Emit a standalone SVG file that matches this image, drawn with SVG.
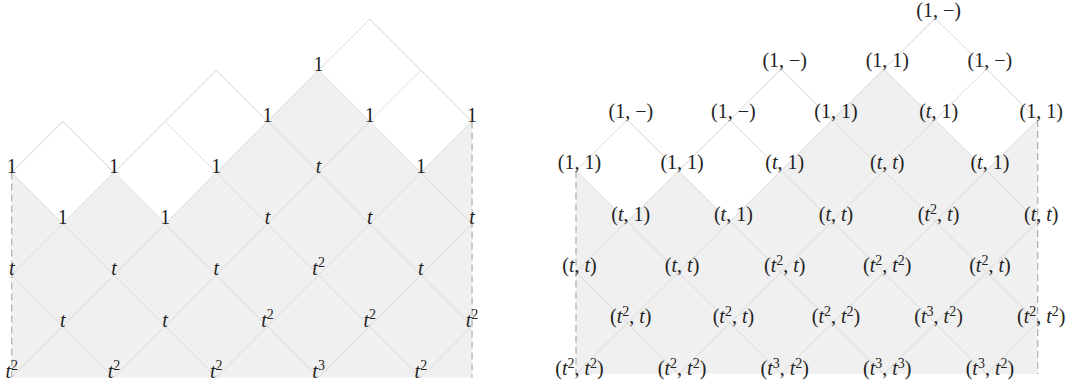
<svg xmlns="http://www.w3.org/2000/svg" width="1068" height="386" viewBox="0 0 1068 386">
<style>
.bg{fill:#ffffff}
.shade{fill:#f0f0f0;stroke:none}
.ln{stroke:#d6d6d6;stroke-width:0.9;fill:none}
.dash{stroke:#b3b3b3;stroke-width:1.3;stroke-dasharray:7 4;fill:none}
.lbl{font-family:"Liberation Serif","DejaVu Serif",serif;fill:#222;text-anchor:middle}
.L{font-size:20px}
.R{font-size:20px}
.i{font-style:italic}
.sL{font-size:14px}
.sR{font-size:14px}
</style>
<defs>
<clipPath id="clipL"><polygon points="11.7,172.6 62.85,121.4 114,172.6 165.15,121.4 216.3,70.2 267.45,121.4 318.6,70.2 369.75,19 420.9,70.2 472.05,121.4 472.05,377.4 11.7,377.4"/></clipPath>
<clipPath id="clipR"><polygon points="576,170.7 627.3,119.9 678.6,170.7 729.9,119.9 781.2,69.1 832.5,119.9 883.8,69.1 935.1,18.3 986.4,69.1 1037.7,119.9 1037.7,373.9 576,373.9"/></clipPath>
</defs>
<rect class="bg" x="0" y="0" width="1068" height="386"/>

<polygon id="left-shade" class="shade" points="11.7,172.6 62.85,223.8 114,172.6 165.15,223.8 216.3,172.6 267.45,121.4 318.6,70.2 369.75,121.4 420.9,172.6 472.05,121.4 472.05,377.4 11.7,377.4"/>
<polygon id="right-shade" class="shade" points="576,170.7 627.3,221.5 678.6,170.7 729.9,221.5 781.2,170.7 832.5,119.9 883.8,69.1 935.1,119.9 986.4,170.7 1037.7,119.9 1037.7,373.9 576,373.9"/>

<g id="connectors">
  <g id="left-lattice" clip-path="url(#clipL)" class="ln">
    <line x1="216.3" y1="-32.2" x2="-244.05" y2="428.6"/>
    <line x1="318.6" y1="-32.2" x2="-141.75" y2="428.6"/>
    <line x1="420.9" y1="-32.2" x2="-39.45" y2="428.6"/>
    <line x1="523.2" y1="-32.2" x2="62.85" y2="428.6"/>
    <line x1="625.5" y1="-32.2" x2="165.15" y2="428.6"/>
    <line x1="727.8" y1="-32.2" x2="267.45" y2="428.6"/>
    <line x1="830.1" y1="-32.2" x2="369.75" y2="428.6"/>
    <line x1="-295.2" y1="-32.2" x2="165.15" y2="428.6"/>
    <line x1="-193.05" y1="-32.2" x2="267.45" y2="428.6"/>
    <line x1="-90.9" y1="-32.2" x2="369.75" y2="428.6"/>
    <line x1="11.7" y1="-32.2" x2="472.05" y2="428.6"/>
    <line x1="114" y1="-32.2" x2="574.35" y2="428.6"/>
    <line x1="216.3" y1="-32.2" x2="676.65" y2="428.6"/>
    <line x1="318.6" y1="-32.2" x2="778.95" y2="428.6"/>
  </g>
  <polyline id="left-top" class="ln" points="11.7,172.6 62.85,121.4 114,172.6 165.15,121.4 216.3,70.2 267.45,121.4 318.6,70.2 369.75,19 420.9,70.2 472.05,121.4"/>
  <line id="left-edge-l" class="dash" x1="11.7" y1="172.6" x2="11.7" y2="377.4"/>
  <line id="left-edge-r" class="dash" x1="472.05" y1="121.4" x2="472.05" y2="377.4"/>

  <g id="right-lattice" clip-path="url(#clipR)" class="ln">
    <line x1="781.2" y1="-32.5" x2="319.5" y2="424.7"/>
    <line x1="883.8" y1="-32.5" x2="422.1" y2="424.7"/>
    <line x1="986.4" y1="-32.5" x2="524.7" y2="424.7"/>
    <line x1="1089" y1="-32.5" x2="627.3" y2="424.7"/>
    <line x1="1191.6" y1="-32.5" x2="729.9" y2="424.7"/>
    <line x1="1294.2" y1="-32.5" x2="832.5" y2="424.7"/>
    <line x1="1396.8" y1="-32.5" x2="935.1" y2="424.7"/>
    <line x1="268.2" y1="-32.5" x2="729.9" y2="424.7"/>
    <line x1="370.8" y1="-32.5" x2="832.5" y2="424.7"/>
    <line x1="473.4" y1="-32.5" x2="935.1" y2="424.7"/>
    <line x1="576" y1="-32.5" x2="1037.7" y2="424.7"/>
    <line x1="678.6" y1="-32.5" x2="1140.3" y2="424.7"/>
    <line x1="781.2" y1="-32.5" x2="1242.9" y2="424.7"/>
    <line x1="883.8" y1="-32.5" x2="1345.5" y2="424.7"/>
  </g>
  <polyline id="right-top" class="ln" points="576,170.7 627.3,119.9 678.6,170.7 729.9,119.9 781.2,69.1 832.5,119.9 883.8,69.1 935.1,18.3 986.4,69.1 1037.7,119.9"/>
  <line id="right-edge-l" class="dash" x1="576" y1="170.7" x2="576" y2="373.9"/>
  <line id="right-edge-r" class="dash" x1="1037.7" y1="119.9" x2="1037.7" y2="373.9"/>
</g>

<g id="L-r1c6"><text class="lbl L" x="318.6" y="70.5">1</text></g>
<g id="L-r2c5"><text class="lbl L" x="267.45" y="121.7">1</text></g>
<g id="L-r2c7"><text class="lbl L" x="369.75" y="121.7">1</text></g>
<g id="L-r2c9"><text class="lbl L" x="472.05" y="121.7">1</text></g>
<g id="L-r3c0"><text class="lbl L" x="11.7" y="172.9">1</text></g>
<g id="L-r3c2"><text class="lbl L" x="114" y="172.9">1</text></g>
<g id="L-r3c4"><text class="lbl L" x="216.3" y="172.9">1</text></g>
<g id="L-r3c6"><text class="lbl L i" x="318.6" y="172.9">t</text></g>
<g id="L-r3c8"><text class="lbl L" x="420.9" y="172.9">1</text></g>
<g id="L-r4c1"><text class="lbl L" x="62.85" y="224.1">1</text></g>
<g id="L-r4c3"><text class="lbl L" x="165.15" y="224.1">1</text></g>
<g id="L-r4c5"><text class="lbl L i" x="267.45" y="224.1">t</text></g>
<g id="L-r4c7"><text class="lbl L i" x="369.75" y="224.1">t</text></g>
<g id="L-r4c9"><text class="lbl L i" x="472.05" y="224.1">t</text></g>
<g id="L-r5c0"><text class="lbl L i" x="11.7" y="275.3">t</text></g>
<g id="L-r5c2"><text class="lbl L i" x="114" y="275.3">t</text></g>
<g id="L-r5c4"><text class="lbl L i" x="216.3" y="275.3">t</text></g>
<g id="L-r5c6"><text class="lbl L" x="318.6" y="275.3"><tspan class="i">t</tspan><tspan class="sL" dy="-8">2</tspan></text></g>
<g id="L-r5c8"><text class="lbl L i" x="420.9" y="275.3">t</text></g>
<g id="L-r6c1"><text class="lbl L i" x="62.85" y="326.5">t</text></g>
<g id="L-r6c3"><text class="lbl L i" x="165.15" y="326.5">t</text></g>
<g id="L-r6c5"><text class="lbl L" x="267.45" y="326.5"><tspan class="i">t</tspan><tspan class="sL" dy="-8">2</tspan></text></g>
<g id="L-r6c7"><text class="lbl L" x="369.75" y="326.5"><tspan class="i">t</tspan><tspan class="sL" dy="-8">2</tspan></text></g>
<g id="L-r6c9"><text class="lbl L" x="472.05" y="326.5"><tspan class="i">t</tspan><tspan class="sL" dy="-8">2</tspan></text></g>
<g id="L-r7c0"><text class="lbl L" x="11.7" y="377.7"><tspan class="i">t</tspan><tspan class="sL" dy="-8">2</tspan></text></g>
<g id="L-r7c2"><text class="lbl L" x="114" y="377.7"><tspan class="i">t</tspan><tspan class="sL" dy="-8">2</tspan></text></g>
<g id="L-r7c4"><text class="lbl L" x="216.3" y="377.7"><tspan class="i">t</tspan><tspan class="sL" dy="-8">2</tspan></text></g>
<g id="L-r7c6"><text class="lbl L" x="318.6" y="377.7"><tspan class="i">t</tspan><tspan class="sL" dy="-8">3</tspan></text></g>
<g id="L-r7c8"><text class="lbl L" x="420.9" y="377.7"><tspan class="i">t</tspan><tspan class="sL" dy="-8">2</tspan></text></g>

<g id="R-r0c7"><text class="lbl R" x="938.6" y="17">(1, −)</text></g>
<g id="R-r1c4"><text class="lbl R" x="784.7" y="66.5">(1, −)</text></g>
<g id="R-r1c6"><text class="lbl R" x="887.3" y="66.5">(1, 1)</text></g>
<g id="R-r1c8"><text class="lbl R" x="989.9" y="66.5">(1, −)</text></g>
<g id="R-r2c1"><text class="lbl R" x="630.8" y="117.9">(1, −)</text></g>
<g id="R-r2c3"><text class="lbl R" x="733.4" y="117.9">(1, −)</text></g>
<g id="R-r2c5"><text class="lbl R" x="836" y="117.9">(1, 1)</text></g>
<g id="R-r2c7"><text class="lbl R" x="938.6" y="117.9">(<tspan class="i">t</tspan>, 1)</text></g>
<g id="R-r2c9"><text class="lbl R" x="1041.2" y="117.9">(1, 1)</text></g>
<g id="R-r3c0"><text class="lbl R" x="579.5" y="169.2">(1, 1)</text></g>
<g id="R-r3c2"><text class="lbl R" x="682.1" y="169.2">(1, 1)</text></g>
<g id="R-r3c4"><text class="lbl R" x="784.7" y="169.2">(<tspan class="i">t</tspan>, 1)</text></g>
<g id="R-r3c6"><text class="lbl R" x="887.3" y="169.2">(<tspan class="i">t</tspan>, <tspan class="i">t</tspan>)</text></g>
<g id="R-r3c8"><text class="lbl R" x="989.9" y="169.2">(<tspan class="i">t</tspan>, 1)</text></g>
<g id="R-r4c1"><text class="lbl R" x="630.8" y="220.6">(<tspan class="i">t</tspan>, 1)</text></g>
<g id="R-r4c3"><text class="lbl R" x="733.4" y="220.6">(<tspan class="i">t</tspan>, 1)</text></g>
<g id="R-r4c5"><text class="lbl R" x="836" y="220.6">(<tspan class="i">t</tspan>, <tspan class="i">t</tspan>)</text></g>
<g id="R-r4c7"><text class="lbl R" x="938.6" y="220.6">(<tspan class="i">t</tspan><tspan class="sR" dy="-7">2</tspan><tspan dy="7">, </tspan><tspan class="i">t</tspan>)</text></g>
<g id="R-r4c9"><text class="lbl R" x="1041.2" y="220.6">(<tspan class="i">t</tspan>, <tspan class="i">t</tspan>)</text></g>
<g id="R-r5c0"><text class="lbl R" x="579.5" y="271.9">(<tspan class="i">t</tspan>, <tspan class="i">t</tspan>)</text></g>
<g id="R-r5c2"><text class="lbl R" x="682.1" y="271.9">(<tspan class="i">t</tspan>, <tspan class="i">t</tspan>)</text></g>
<g id="R-r5c4"><text class="lbl R" x="784.7" y="271.9">(<tspan class="i">t</tspan><tspan class="sR" dy="-7">2</tspan><tspan dy="7">, </tspan><tspan class="i">t</tspan>)</text></g>
<g id="R-r5c6"><text class="lbl R" x="887.3" y="271.9">(<tspan class="i">t</tspan><tspan class="sR" dy="-7">2</tspan><tspan dy="7">, </tspan><tspan class="i">t</tspan><tspan class="sR" dy="-7">2</tspan><tspan dy="7">)</tspan></text></g>
<g id="R-r5c8"><text class="lbl R" x="989.9" y="271.9">(<tspan class="i">t</tspan><tspan class="sR" dy="-7">2</tspan><tspan dy="7">, </tspan><tspan class="i">t</tspan>)</text></g>
<g id="R-r6c1"><text class="lbl R" x="630.8" y="323.3">(<tspan class="i">t</tspan><tspan class="sR" dy="-7">2</tspan><tspan dy="7">, </tspan><tspan class="i">t</tspan>)</text></g>
<g id="R-r6c3"><text class="lbl R" x="733.4" y="323.3">(<tspan class="i">t</tspan><tspan class="sR" dy="-7">2</tspan><tspan dy="7">, </tspan><tspan class="i">t</tspan>)</text></g>
<g id="R-r6c5"><text class="lbl R" x="836" y="323.3">(<tspan class="i">t</tspan><tspan class="sR" dy="-7">2</tspan><tspan dy="7">, </tspan><tspan class="i">t</tspan><tspan class="sR" dy="-7">2</tspan><tspan dy="7">)</tspan></text></g>
<g id="R-r6c7"><text class="lbl R" x="938.6" y="323.3">(<tspan class="i">t</tspan><tspan class="sR" dy="-7">3</tspan><tspan dy="7">, </tspan><tspan class="i">t</tspan><tspan class="sR" dy="-7">2</tspan><tspan dy="7">)</tspan></text></g>
<g id="R-r6c9"><text class="lbl R" x="1041.2" y="323.3">(<tspan class="i">t</tspan><tspan class="sR" dy="-7">2</tspan><tspan dy="7">, </tspan><tspan class="i">t</tspan><tspan class="sR" dy="-7">2</tspan><tspan dy="7">)</tspan></text></g>
<g id="R-r7c0"><text class="lbl R" x="579.5" y="374.6">(<tspan class="i">t</tspan><tspan class="sR" dy="-7">2</tspan><tspan dy="7">, </tspan><tspan class="i">t</tspan><tspan class="sR" dy="-7">2</tspan><tspan dy="7">)</tspan></text></g>
<g id="R-r7c2"><text class="lbl R" x="682.1" y="374.6">(<tspan class="i">t</tspan><tspan class="sR" dy="-7">2</tspan><tspan dy="7">, </tspan><tspan class="i">t</tspan><tspan class="sR" dy="-7">2</tspan><tspan dy="7">)</tspan></text></g>
<g id="R-r7c4"><text class="lbl R" x="784.7" y="374.6">(<tspan class="i">t</tspan><tspan class="sR" dy="-7">3</tspan><tspan dy="7">, </tspan><tspan class="i">t</tspan><tspan class="sR" dy="-7">2</tspan><tspan dy="7">)</tspan></text></g>
<g id="R-r7c6"><text class="lbl R" x="887.3" y="374.6">(<tspan class="i">t</tspan><tspan class="sR" dy="-7">3</tspan><tspan dy="7">, </tspan><tspan class="i">t</tspan><tspan class="sR" dy="-7">3</tspan><tspan dy="7">)</tspan></text></g>
<g id="R-r7c8"><text class="lbl R" x="989.9" y="374.6">(<tspan class="i">t</tspan><tspan class="sR" dy="-7">3</tspan><tspan dy="7">, </tspan><tspan class="i">t</tspan><tspan class="sR" dy="-7">2</tspan><tspan dy="7">)</tspan></text></g>
</svg>
